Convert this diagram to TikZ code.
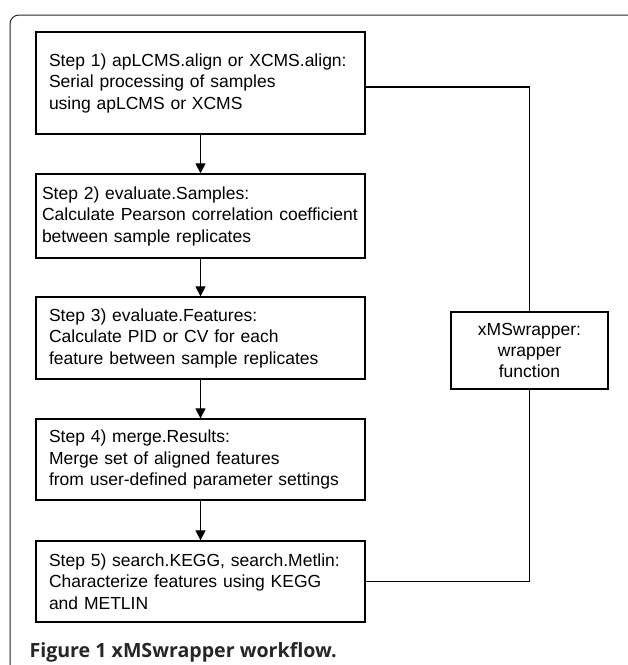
\documentclass[tikz,border=0pt]{standalone}
\usepackage{fontspec}
\setmainfont{Liberation Sans}
\newfontfamily\capfont{Open Sans}
\usetikzlibrary{arrows.meta}
\tikzset{
  stepbox/.style={draw,line width=1.3pt,inner xsep=13pt,text width=303pt,align=left,
    minimum height=81pt,font=\fontsize{17.5}{21.5}\selectfont},
  wrapbox/.style={draw,line width=1.3pt,minimum width=157pt,minimum height=77pt,
    align=center,font=\fontsize{17.5}{21}\selectfont},
  flow/.style={line width=1.2pt,-{Triangle[width=10pt,length=10pt]}},
  link/.style={line width=1.1pt}
}
\begin{document}
\begin{tikzpicture}[x=1pt,y=-1pt]
\useasboundingbox (0,0) rectangle (628,665);
\draw[line width=1pt,black!85,rounded corners=9pt] (10,700) -- (10,15) -- (640,15);
\node[stepbox,minimum height=102pt] (s1) at (200.5,83) {Step 1) apLCMS.align or XCMS.align:\\Serial processing of samples\\using apLCMS or XCMS};
\node[stepbox,minimum height=84pt,inner xsep=6pt,text width=317pt] (s2) at (200.5,216) {Step 2) evaluate.Samples:\\Calculate Pearson correlation coefficient\\between sample replicates};
\node[stepbox,minimum height=82pt] (s3) at (200.5,338) {Step 3) evaluate.Features:\\Calculate PID or CV for each\\feature between sample replicates};
\node[stepbox] (s4) at (200.5,459.5) {Step 4) merge.Results:\\Merge set of aligned features\\from user-defined parameter settings};
\node[stepbox] (s5) at (200.5,581.5) {Step 5) search.KEGG, search.Metlin:\\Characterize features using KEGG\\and METLIN};
\node[wrapbox] (wrap) at (529.5,350.5) {xMSwrapper:\\wrapper\\function};
\node[anchor=base west,black!85,font=\capfont\bfseries\fontsize{19.6}{22}\selectfont] (cap) at (26,657.5) {Figure 1 xMSwrapper workflow.};
\draw[flow] (s1) -- (s2);
\draw[flow] (s2) -- (s3);
\draw[flow] (s3) -- (s4);
\draw[flow] (s4) -- (s5);
\draw[link] ([yshift=-4pt]s1.east) -| (wrap.north);
\draw[link] (wrap.south) |- (s5.east);
\end{tikzpicture}
\end{document}
